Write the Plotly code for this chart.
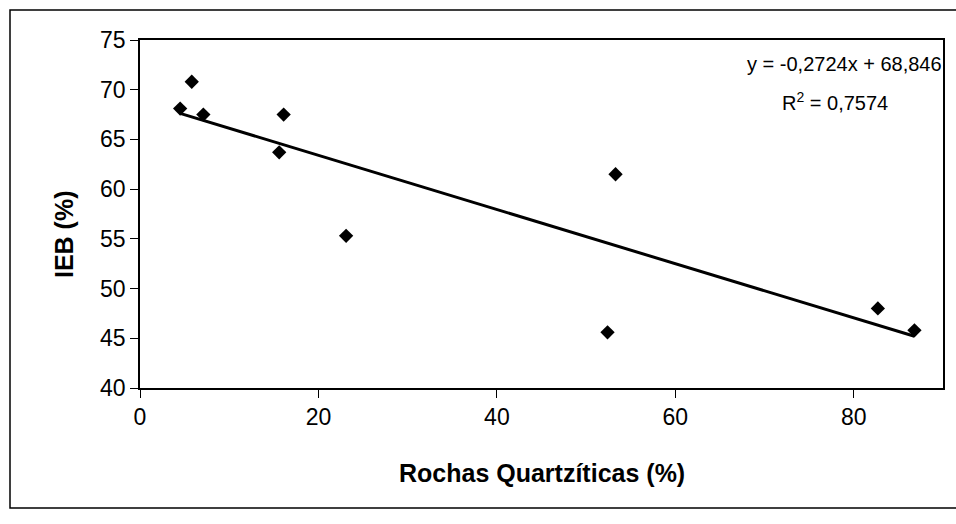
import plotly.graph_objects as go

rochas_quartziticas = [4.5, 5.8, 7.1, 15.6, 16.1, 23.1, 52.4, 53.3, 82.7, 86.8]
ieb = [68.1, 70.8, 67.5, 63.7, 67.5, 55.3, 45.6, 61.5, 48.0, 45.8]
slope = -0.2724
intercept = 68.846
eq_text = "y = -0,2724x + 68,846"
r2_text = "R<sup>2</sup> = 0,7574"
x_ticks = [0, 20, 40, 60, 80]
y_ticks = [40, 45, 50, 55, 60, 65, 70, 75]

font = "Liberation Sans, Arial, sans-serif"

x_line = [min(rochas_quartziticas), max(rochas_quartziticas)]
y_line = [slope * v + intercept for v in x_line]

fig = go.Figure()
fig.add_trace(go.Scatter(x=x_line, y=y_line, mode="lines",
                         line=dict(color="black", width=3), hoverinfo="skip"))
fig.add_trace(go.Scatter(x=rochas_quartziticas, y=ieb, mode="markers",
                         marker=dict(symbol="diamond", size=11, color="black")))

fig.update_layout(
    width=956, height=524,
    margin=dict(l=140, r=13, t=40, b=136),
    paper_bgcolor="white", plot_bgcolor="white",
    showlegend=False,
    font=dict(family=font, size=20, color="black"),
    xaxis=dict(range=[0, 90], tickvals=x_ticks, showgrid=False, zeroline=False,
               showline=True, linecolor="black", linewidth=1.5, mirror=True,
               ticks="outside", ticklen=8, tickcolor="black",
               tickfont=dict(size=23, family=font)),
    yaxis=dict(range=[40, 75], tickvals=y_ticks, showgrid=False, zeroline=False,
               showline=True, linecolor="black", linewidth=1.5, mirror=True,
               ticks="outside", ticklen=8, tickcolor="black",
               tickfont=dict(size=23, family=font)),
    shapes=[dict(type="rect", xref="paper", yref="paper",
                 x0=(10 - 140) / 803, x1=(962 - 140) / 803,
                 y0=(388 - 508) / 348, y1=(388 - 10) / 348,
                 line=dict(color="black", width=1.5), fillcolor="rgba(0,0,0,0)",
                 layer="below")],
    annotations=[
        dict(text=eq_text, xref="paper", yref="paper",
             x=(944 - 140) / 803, y=(388 - 64) / 348, xanchor="right", yanchor="middle",
             showarrow=False, font=dict(size=20, family=font)),
        dict(text=r2_text, xref="paper", yref="paper",
             x=(835 - 140) / 803, y=(388 - 101) / 348, xanchor="center", yanchor="middle",
             showarrow=False, font=dict(size=20, family=font)),
        dict(text="<b>Rochas Quartzíticas (%)</b>", xref="paper", yref="paper",
             x=(542 - 140) / 803, y=(388 - 473) / 348, xanchor="center", yanchor="middle",
             showarrow=False, font=dict(size=25, family=font)),
        dict(text="<b>IEB (%)</b>", xref="paper", yref="paper", textangle=-90,
             x=(64 - 140) / 803, y=(388 - 234) / 348, xanchor="center", yanchor="middle",
             showarrow=False, font=dict(size=25, family=font)),
    ],
)

fig.write_html("out.html")
